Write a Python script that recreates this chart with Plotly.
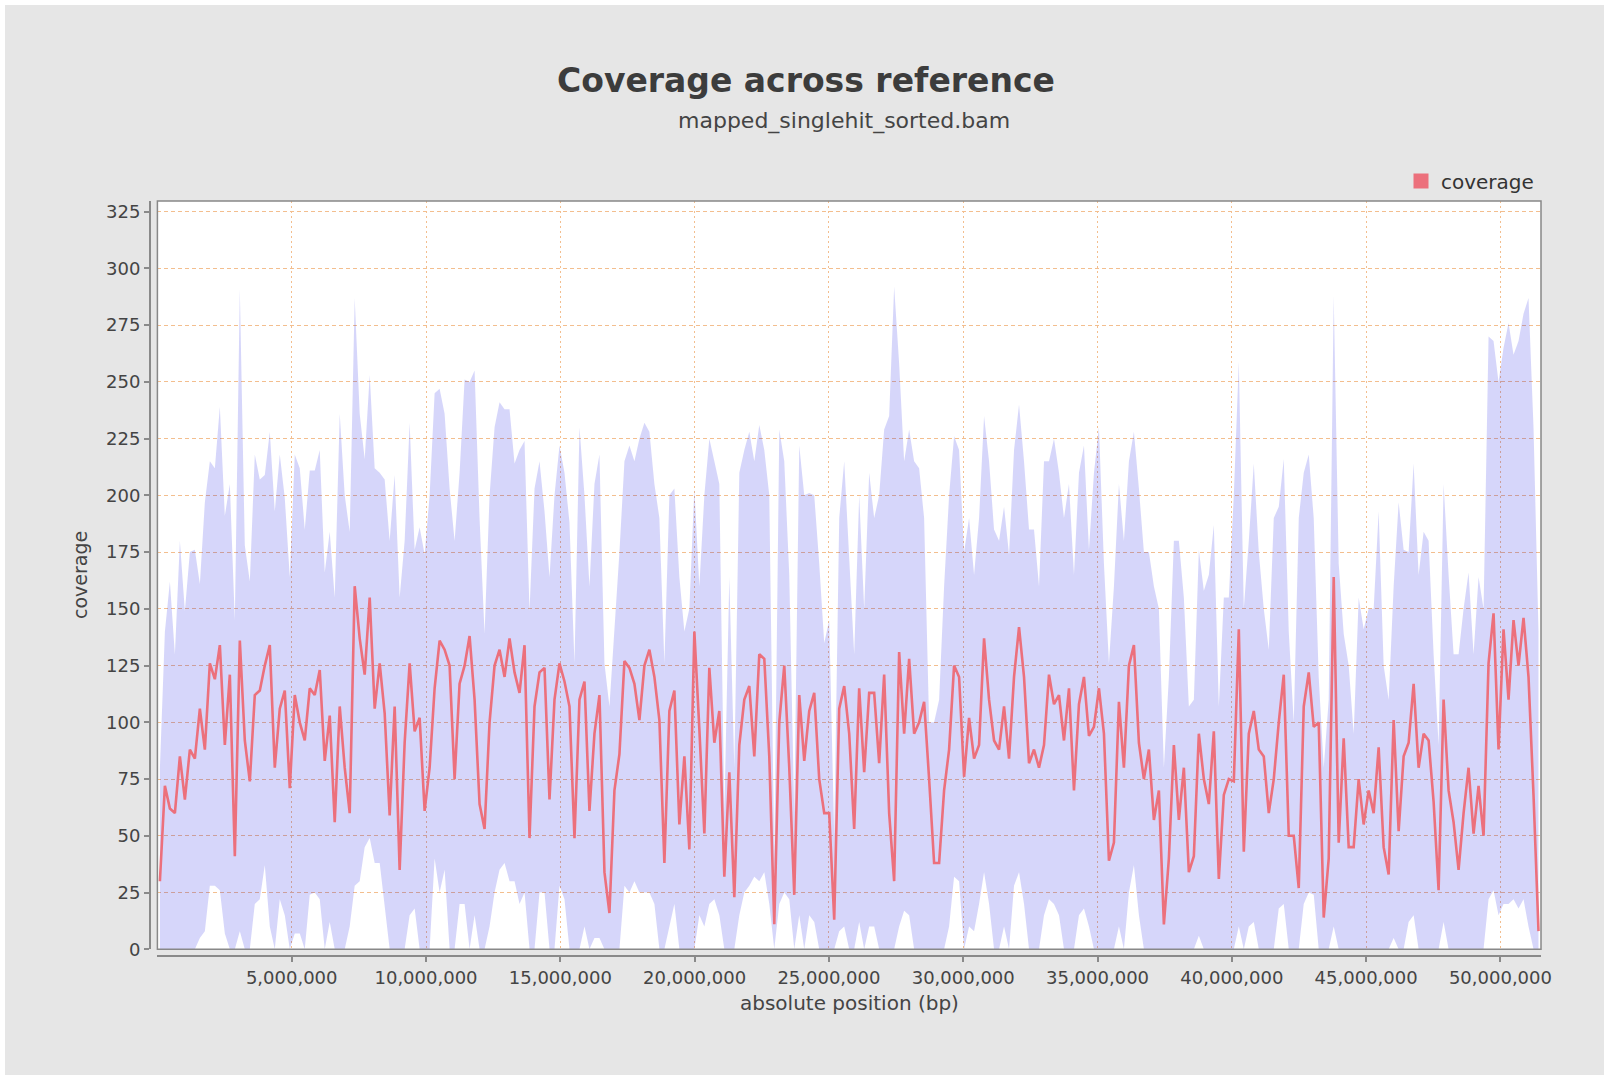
import plotly.graph_objects as go

# ---------------- data ----------------
GENOME_LENGTH = 51_510_000  # bp covered by the x axis

# mean coverage per window
coverage_mean = [
    30, 72, 62, 60, 85, 66, 88, 84, 106, 88, 126, 119, 134, 90, 121, 41, 136, 92, 74, 112,
    114, 125, 134, 80, 106, 114, 71, 112, 100, 92, 115, 112, 123, 83, 103, 56, 107, 80, 60, 160,
    137, 121, 155, 106, 126, 104, 59, 107, 35, 91, 126, 96, 102, 61,
    80, 115, 136, 132, 125, 75, 117, 125, 138, 110, 64, 53, 100, 125, 132, 120, 137, 122, 113, 134,
    49, 107, 122, 124, 66, 110, 126, 118, 107, 49, 110, 118, 61, 95, 112, 34, 16, 70, 86, 127,
    124, 117, 101, 125, 132, 120, 101, 38, 105, 114, 55, 85, 44, 140,
    97, 51, 124, 91, 105, 32, 78, 23, 90, 110, 116, 85, 130, 128, 85, 11, 100, 125, 80, 24,
    112, 83, 105, 113, 75, 60, 60, 13, 106, 116, 95, 53, 115, 78, 113, 113, 82, 121, 60, 30,
    131, 95, 128, 95, 100, 109, 75, 38, 38, 70, 88, 125, 120, 76,
    102, 84, 90, 137, 110, 92, 88, 107, 84, 120, 142, 120, 82, 88, 80, 90, 121, 108, 112, 92,
    115, 70, 108, 120, 94, 98, 115, 95, 39, 47, 109, 80, 125, 134, 91, 75, 88, 57, 70, 11,
    40, 90, 57, 80, 34, 41, 95, 75, 64, 96, 31, 68, 75, 74,
    141, 43, 95, 105, 88, 85, 60, 75, 100, 121, 50, 50, 27, 107, 122, 98, 100, 14, 40, 164,
    47, 93, 45, 45, 75, 55, 70, 60, 89, 45, 33, 101, 52, 85, 91, 117, 80, 95, 92, 65,
    26, 110, 70, 56, 35, 60, 80, 51, 72, 50, 126, 148, 88, 141,
    110, 145, 125, 146, 120, 68, 8,
]

# mean + std (upper edge of the shaded band)
coverage_upper = [
    80, 140, 162, 130, 180, 149, 175, 176, 161, 197, 215, 212, 239, 191, 205, 145, 291, 178, 162, 218,
    207, 209, 228, 193, 218, 199, 164, 218, 212, 185, 211, 211, 220, 166, 184, 155, 236, 200, 184, 287,
    236, 216, 253, 212, 210, 207, 180, 209, 155, 180, 232, 176, 186, 174,
    200, 245, 247, 236, 203, 180, 210, 251, 250, 255, 190, 139, 200, 230, 241, 238, 238, 214, 220, 224,
    149, 203, 215, 193, 164, 200, 222, 210, 188, 126, 230, 200, 160, 205, 218, 126, 107, 140, 175, 215,
    222, 215, 225, 232, 228, 205, 190, 126, 200, 203, 164, 140, 150, 203,
    160, 200, 225, 215, 205, 60, 164, 80, 210, 220, 228, 215, 231, 220, 200, 40, 229, 215, 165, 60,
    222, 200, 201, 200, 170, 135, 145, 50, 190, 215, 170, 130, 200, 150, 210, 190, 200, 229, 235, 292,
    258, 215, 229, 215, 212, 190, 100, 100, 110, 160, 200, 226, 220, 175,
    190, 165, 190, 235, 215, 185, 180, 195, 174, 220, 240, 215, 185, 185, 160, 215, 215, 225, 210, 190,
    205, 165, 210, 222, 176, 210, 230, 170, 126, 160, 205, 180, 215, 228, 203, 175, 175, 160, 150, 80,
    120, 180, 180, 155, 107, 110, 176, 158, 165, 187, 107, 155, 155, 200,
    259, 150, 180, 214, 175, 150, 132, 190, 195, 216, 140, 100, 190, 210, 218, 190, 120, 80, 110, 288,
    170, 139, 125, 95, 155, 141, 150, 150, 193, 125, 110, 160, 197, 176, 175, 214, 165, 184, 180, 130,
    90, 205, 165, 130, 130, 150, 166, 130, 164, 150, 270, 268, 250, 265,
    276, 262, 268, 280, 287, 230, 140,
]

# max(0, mean - std) (lower edge of the shaded band)
coverage_lower = [
    0, 0, 0, 0, 0, 0, 0, 0, 5, 8, 28, 28, 26, 7, 0, 0, 8, 0, 0, 20,
    22, 37, 10, 0, 22, 15, 0, 7, 7, 0, 24, 25, 22, 0, 12, 0, 0, 0, 10, 28,
    30, 45, 49, 38, 38, 20, 0, 0, 0, 0, 15, 18, 0, 0,
    0, 40, 25, 35, 0, 0, 20, 20, 0, 15, 0, 0, 10, 25, 35, 38, 30, 30, 20, 25,
    0, 0, 25, 25, 0, 0, 28, 22, 0, 0, 0, 10, 0, 5, 5, 0, 0, 0, 0, 28,
    25, 30, 25, 25, 25, 20, 0, 0, 10, 20, 0, 0, 0, 0,
    15, 10, 20, 22, 15, 0, 0, 0, 15, 25, 28, 32, 30, 34, 20, 0, 20, 25, 22, 0,
    15, 0, 15, 12, 0, 0, 0, 0, 8, 10, 0, 0, 12, 0, 10, 10, 0, 0, 0, 0,
    10, 17, 15, 0, 0, 0, 0, 0, 0, 0, 10, 32, 30, 0,
    10, 8, 20, 34, 20, 0, 0, 10, 0, 28, 34, 20, 0, 0, 0, 15, 22, 20, 15, 0,
    0, 0, 15, 18, 10, 0, 0, 0, 0, 0, 10, 0, 25, 37, 15, 0, 0, 0, 0, 0,
    0, 0, 0, 0, 0, 0, 6, 0, 0, 0, 0, 0, 0, 0,
    10, 0, 10, 12, 0, 0, 0, 0, 18, 20, 0, 0, 0, 20, 25, 24, 0, 0, 0, 10,
    0, 0, 0, 0, 0, 0, 0, 0, 0, 0, 0, 5, 0, 0, 12, 15, 0, 0, 0, 0,
    0, 12, 0, 0, 0, 0, 0, 0, 0, 0, 22, 26, 15, 20,
    20, 22, 18, 22, 10, 0, 0,
]

x_tick_values = [5_000_000, 10_000_000, 15_000_000, 20_000_000, 25_000_000,
                 30_000_000, 35_000_000, 40_000_000, 45_000_000, 50_000_000]
y_tick_values = [0, 25, 50, 75, 100, 125, 150, 175, 200, 225, 250, 275, 300, 325]

TITLE = "Coverage across reference"
SUBTITLE = "mapped_singlehit_sorted.bam"
X_TITLE = "absolute position (bp)"
Y_TITLE = "coverage"
SERIES_NAME = "coverage"

# window centres
n_windows = len(coverage_mean)
window = GENOME_LENGTH / n_windows
positions = [(i + 0.5) * window for i in range(n_windows)]

# ---------------- styling ----------------
FONT = "DejaVu Sans"
TEXT = "#444444"
RED = "rgb(236,112,124)"
BAND = "rgba(0,0,224,0.16)"
GRID = "rgb(243,190,142)"
AXIS = "#8a8a8a"

fig = go.Figure()

fig.add_trace(go.Scatter(x=positions, y=coverage_upper, mode="lines",
                         line=dict(width=0), hoverinfo="skip", showlegend=False))
fig.add_trace(go.Scatter(x=positions, y=coverage_lower, mode="lines",
                         line=dict(width=0), fill="tonexty", fillcolor=BAND,
                         hoverinfo="skip", showlegend=False))
fig.add_trace(go.Scatter(x=positions, y=coverage_mean, mode="lines",
                         line=dict(color=RED, width=2.6), showlegend=False,
                         name=SERIES_NAME))
# legend entry (square swatch)
fig.add_trace(go.Scatter(x=[None], y=[None], mode="markers", name=SERIES_NAME,
                         marker=dict(symbol="square", size=15, color=RED)))

W, H = 1604, 1075
ML, MR, MT, MB = 150, 63, 201, 119
PW, PH = W - ML - MR, H - MT - MB


def px(xf):
    return (xf - ML) / PW


def py(yf):
    return (H - MB - yf) / PH


fig.update_layout(
    width=W, height=H, autosize=False,
    margin=dict(l=ML, r=MR, t=MT, b=MB, pad=0),
    paper_bgcolor="white",
    plot_bgcolor="white",
    font=dict(family=FONT, color=TEXT, size=18),
    showlegend=True,
    legend=dict(x=px(1539), y=py(181), xanchor="right", yanchor="middle",
                bgcolor="rgba(0,0,0,0)", font=dict(size=20, color="#333333"),
                itemwidth=30, borderwidth=0),
    xaxis=dict(
        domain=[px(157.4), 1], anchor="free", position=0,
        range=[0, GENOME_LENGTH], tickvals=x_tick_values, tickformat=",d",
        showline=True, linecolor=AXIS, linewidth=2,
        ticks="outside", ticklen=5, tickcolor=AXIS, tickwidth=1.5,
        showgrid=True, gridcolor=GRID, gridwidth=1, griddash="2px,3px",
        zeroline=False, tickfont=dict(size=18, color=TEXT),
    ),
    yaxis=dict(
        domain=[py(949.3), 1], anchor="free", position=0,
        range=[0, 329.7], tickvals=y_tick_values,
        showline=True, linecolor=AXIS, linewidth=2,
        ticks="outside", ticklen=5, tickcolor=AXIS, tickwidth=1.5,
        showgrid=True, gridcolor=GRID, gridwidth=1, griddash="4px,3px",
        zeroline=False, tickfont=dict(size=18, color=TEXT),
    ),
    shapes=[
        # grey chart background with thin white frame
        dict(type="rect", xref="paper", yref="paper", layer="below",
             x0=px(5), x1=px(1604), y0=py(1075), y1=py(5),
             fillcolor="#e6e6e6", line=dict(width=0)),
        # white plot area on top of the grey background
        dict(type="rect", xref="x domain", yref="y domain", layer="below",
             x0=0, x1=1, y0=0, y1=1, fillcolor="white", line=dict(width=0)),
        # plot area border
        dict(type="rect", xref="x domain", yref="y domain", layer="above",
             x0=0, x1=1, y0=0, y1=1, line=dict(color="#888888", width=1.5)),
    ],
    annotations=[
        dict(text=TITLE, xref="paper", yref="paper", x=px(806), y=py(80),
             xanchor="center", yanchor="middle", showarrow=False,
             font=dict(size=33, color="#3c3c3c", family=FONT, weight="bold")),
        dict(text=SUBTITLE, xref="paper", yref="paper", x=px(844), y=py(121),
             xanchor="center", yanchor="middle", showarrow=False,
             font=dict(size=22, color=TEXT, family=FONT)),
        dict(text=X_TITLE, xref="paper", yref="paper", x=px(849), y=py(1003),
             xanchor="center", yanchor="middle", showarrow=False,
             font=dict(size=20, color=TEXT, family=FONT)),
        dict(text=Y_TITLE, xref="paper", yref="paper", x=px(80), y=py(575),
             xanchor="center", yanchor="middle", showarrow=False, textangle=-90,
             font=dict(size=19, color=TEXT, family=FONT)),
    ],
)

fig.write_html("out.html", config={"displayModeBar": False},
               post_script="document.body.style.margin='0';document.body.style.overflow='hidden';")
